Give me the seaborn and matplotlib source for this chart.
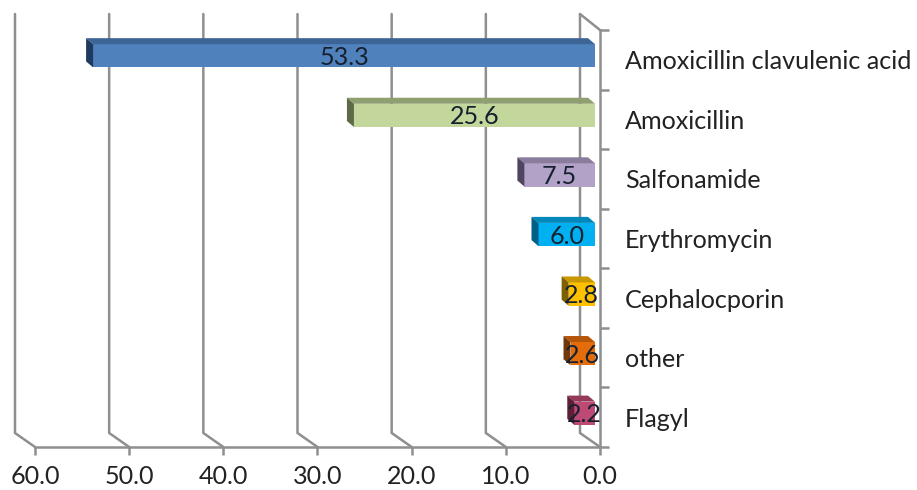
import seaborn as sns
from matplotlib import pyplot as plt
from matplotlib.lines import Line2D
from matplotlib.patches import Polygon
from matplotlib.transforms import Affine2D, IdentityTransform
import numpy as np

drugs = ['Amoxicillin clavulenic acid', 'Amoxicillin', 'Salfonamide', 'Erythromycin',
         'Cephalocporin', 'other', 'Flagyl']
percent = [53.3, 25.6, 7.5, 6.0, 2.8, 2.6, 2.2]
front_colors = ['#4f81bd', '#c3d69b', '#b3a2c7', '#00b0f0', '#ffc000', '#e46c0a', '#bd4a75']
top_colors = ['#3c6494', '#8f9f70', '#8a7c9c', '#0088ba', '#c99700', '#b5560a', '#96385a']
side_colors = ['#1f3a5f', '#5c6a45', '#4f4560', '#005f85', '#7f6000', '#73380a', '#5e1f38']
x_ticks = [60, 50, 40, 30, 20, 10, 0]

GRID = '#8f8f8f'
TEXT = '#222222'
LW = 1.8
FS = 18.1

sns.set_style("white")
plt.rcParams['font.family'] = ['Lato', 'DejaVu Sans']

W, H = 917, 490
fig = plt.figure(figsize=(W / 100, H / 100), dpi=100)
ax = fig.add_axes([35 / W, 1 - 447 / H, 565 / W, 417 / H])

sns.barplot(x=percent, y=drugs, hue=drugs, palette=front_colors, legend=False,
            orient='h', width=0.39, saturation=1, ax=ax, zorder=3)
ax.set_xlim(60, 0)
ax.set_ylim(6.5, -0.5)
ax.set_xlabel('')
ax.set_ylabel('')

# axis frame, only the front edges of the fake 3d box
for side in ['left', 'top']:
    ax.spines[side].set_visible(False)
for side in ['right', 'bottom']:
    ax.spines[side].set_visible(True)
    ax.spines[side].set_color(GRID)
    ax.spines[side].set_linewidth(LW)

ax.set_xticks(x_ticks)
ax.set_xticklabels(['%.1f' % t for t in x_ticks])
ax.yaxis.tick_right()
ax.set_yticks(np.arange(len(drugs)))
ax.set_yticklabels(drugs)
ax.set_yticks(np.arange(len(drugs) + 1) - 0.5, minor=True)
ax.tick_params(axis='x', length=5.8, width=LW, color=GRID, pad=7.5, labelsize=FS, labelcolor=TEXT, bottom=True)
ax.tick_params(axis='y', which='major', length=0, pad=18, labelsize=FS, labelcolor=TEXT, right=True)
ax.tick_params(axis='y', which='minor', length=6.5, width=LW, color=GRID, right=True, left=False)


def draw_px(points, **kw):
    ax.add_line(Line2D(*zip(*points), transform=IdentityTransform(), clip_on=False, **kw))


# back wall gridlines with the little diagonal down to the front axis
back_dx, back_dy = -20, 16
y_top, y_bottom = ax.transData.transform([(0, -0.5), (0, 6.5)])[:, 1]
for t in x_ticks:
    px = ax.transData.transform((t, 6.5))[0]
    draw_px([(px + back_dx, y_top + back_dy), (px + back_dx, y_bottom + back_dy - 2), (px, y_bottom)],
            color=GRID, lw=LW, zorder=1)
px0 = ax.transData.transform((0, 0))[0]
draw_px([(px0 + back_dx, y_top + back_dy), (px0, y_top)], color=GRID, lw=LW, zorder=1)

# bars sit a bit inside the box, and get a side and top face
bar_dx, bar_dy = -5, 4
depth_dx, depth_dy = -7, 6
moved = ax.transData + Affine2D().translate(bar_dx, bar_dy)
label_moved = moved + Affine2D().translate(0, -1.5)
for i, bar in enumerate(ax.patches[:len(drugs)]):
    bar.set_transform(moved)
    bar.set_edgecolor('none')
    x0, x1 = bar.get_x(), bar.get_x() + bar.get_width()
    y0, y1 = bar.get_y(), bar.get_y() + bar.get_height()
    tip_top, tip_low, base_top = moved.transform([(x1, y0), (x1, y1), (x0, y0)])
    back = np.array([depth_dx, depth_dy])
    ax.add_patch(Polygon([tip_top, base_top, base_top + back, tip_top + back],
                         facecolor=top_colors[i], edgecolor='none',
                         transform=IdentityTransform(), clip_on=False, zorder=3))
    ax.add_patch(Polygon([tip_top, tip_low, tip_low + back, tip_top + back],
                         facecolor=side_colors[i], edgecolor='none',
                         transform=IdentityTransform(), clip_on=False, zorder=3))
    ax.text((x0 + x1) / 2, (y0 + y1) / 2, '%.1f' % percent[i], transform=label_moved,
            ha='center', va='center', fontsize=FS, color='#16202e', zorder=5)

fig.savefig('out.png', dpi=100)
